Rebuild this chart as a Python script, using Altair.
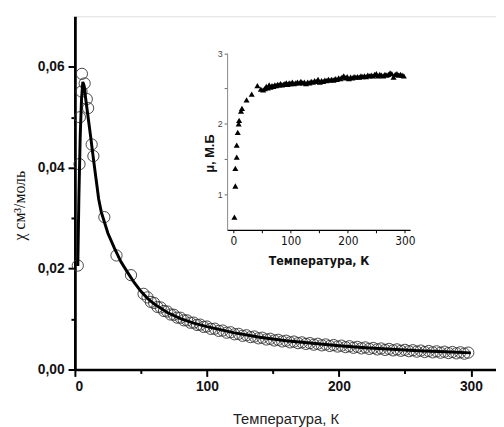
import altair as alt
import pandas as pd

# ---------- main chart: chi vs T (open circles) ----------
circ_T = [2.2, 3.5, 3.8, 5.0, 5.3, 7.4, 9.0, 10.0, 12.7, 14.0, 22.3, 31.5, 42.5, 52.0,
          55, 57.5, 60, 62.5, 65, 67.5, 70, 72.5, 75, 77.5, 80, 82.5, 85, 87.5, 90, 92.5,
          95, 97.5, 100, 103, 106, 109, 112, 115, 118, 121, 124, 127, 130, 133, 136, 139,
          142, 145, 148, 151, 154, 157, 160, 163, 166, 169, 172, 175, 178, 181, 184, 187,
          190, 193, 196, 199, 202, 205, 208, 211, 214, 217, 220, 223, 226, 229, 232, 235,
          238, 241, 244, 247, 250, 253, 256, 259, 262, 265, 268, 271, 274, 277, 280, 283,
          286, 289, 292, 295, 298]
circ_chi = [0.0206, 0.0407, 0.0500, 0.0551, 0.0586, 0.0567, 0.0536, 0.0518, 0.0446, 0.0423,
            0.0302, 0.0226, 0.0187, 0.0150,
            0.01430, 0.01340, 0.01320, 0.01240, 0.01230, 0.01160, 0.01150, 0.01090, 0.01085,
            0.01028, 0.01026, 0.00975, 0.00974, 0.00927, 0.00929, 0.00884, 0.00889, 0.00845,
            0.00852, 0.00806, 0.00809, 0.00766, 0.00772, 0.00730, 0.00738, 0.00698, 0.00707,
            0.00668, 0.00679, 0.00642, 0.00654, 0.00618, 0.00630, 0.00595, 0.00609, 0.00575,
            0.00589, 0.00556, 0.00571, 0.00538, 0.00554, 0.00522, 0.00538, 0.00507, 0.00523,
            0.00492, 0.00510, 0.00479, 0.00497, 0.00467, 0.00485, 0.00455, 0.00473, 0.00443,
            0.00461, 0.00431, 0.00449, 0.00419, 0.00438, 0.00409, 0.00427, 0.00398, 0.00417,
            0.00388, 0.00408, 0.00379, 0.00399, 0.00371, 0.00390, 0.00362, 0.00382, 0.00354,
            0.00375, 0.00347, 0.00367, 0.00340, 0.00360, 0.00333, 0.00353, 0.00326, 0.00347,
            0.00320, 0.00341, 0.00314, 0.00335]

# fitted curve (solid black line)
fit_T = [2.2, 3.0, 4.0, 5.0, 6.0, 7.0, 8.0, 10, 12, 14, 16, 18, 20, 25, 30, 35, 40, 45, 50,
         55, 60, 70, 80, 90, 100, 120, 140, 160, 180, 200, 220, 240, 260, 280, 300]
fit_chi = [0.0205, 0.0340, 0.0460, 0.0535, 0.0570, 0.0562, 0.0540, 0.0500, 0.0460, 0.0418,
           0.0378, 0.0338, 0.0312, 0.0270, 0.0240, 0.0213, 0.0192, 0.0172, 0.0155, 0.0141,
           0.0130, 0.0113, 0.0101, 0.0092, 0.0085, 0.0073, 0.0064, 0.0057, 0.0052, 0.0047,
           0.0043, 0.0040, 0.0037, 0.0035, 0.0033]

# ---------- inset: mu vs T (filled triangles) ----------
tri_T = [1.8, 3.4, 3.4, 5.8, 5.8, 7.6, 9.2, 10.0, 13.3, 15.0, 23.0, 32.0, 42.0, 48, 52,
         55, 57.5, 60, 62.5, 65, 67.5, 70, 72.5, 75, 77.5, 80, 82.5, 85, 87.5, 90, 92.5,
         95, 97.5, 100, 103, 106, 109, 112, 115, 118, 121, 124, 127, 130, 133, 136, 139,
         142, 145, 148, 151, 154, 157, 160, 163, 166, 169, 172, 175, 178, 181, 184, 187,
         190, 193, 196, 199, 202, 205, 208, 211, 214, 217, 220, 223, 226, 229, 232, 235,
         238, 241, 244, 247, 250, 253, 256, 259, 262, 265, 268, 271, 274, 277, 280, 283,
         286, 289, 292, 295, 298]
tri_mu = [0.68, 1.12, 1.37, 1.53, 1.70, 1.88, 2.00, 2.05, 2.18, 2.22, 2.34, 2.42, 2.54, 2.49, 2.48,
          2.50, 2.53, 2.51, 2.55, 2.52, 2.54, 2.53, 2.55, 2.54, 2.56, 2.55, 2.57, 2.55, 2.56,
          2.57, 2.58, 2.56, 2.58, 2.57, 2.59, 2.57, 2.58, 2.59, 2.58, 2.60, 2.58, 2.59, 2.57,
          2.59, 2.58, 2.60, 2.59, 2.61, 2.60, 2.63, 2.59, 2.61, 2.60, 2.62, 2.61, 2.63, 2.62,
          2.63, 2.62, 2.64, 2.63, 2.65, 2.64, 2.66, 2.68, 2.65, 2.67, 2.64, 2.66, 2.65, 2.67,
          2.66, 2.67, 2.66, 2.68, 2.67, 2.68, 2.67, 2.69, 2.68, 2.69, 2.68, 2.70, 2.71, 2.68,
          2.70, 2.69, 2.68, 2.70, 2.69, 2.70, 2.72, 2.71, 2.66, 2.70, 2.71, 2.69, 2.70, 2.69,
          2.68]

# axis tick values
main_x_ticks = [0, 50, 100, 150, 200, 250, 300]
main_y_ticks = [0, 0.01, 0.02, 0.03, 0.04, 0.05, 0.06]
inset_x_ticks = [0, 50, 100, 150, 200, 250, 300]
inset_y_ticks = [1, 1.5, 2, 2.5, 3]

circ_df = pd.DataFrame({"T": circ_T, "chi": circ_chi})
fit_df = pd.DataFrame({"T": fit_T, "chi": fit_chi})
tri_df = pd.DataFrame({"T": tri_T, "mu": tri_mu})

W, H = 428, 359
FONT = "Liberation Sans"
NARROW = "'DejaVu Sans Condensed', 'Liberation Sans Narrow', 'Liberation Sans', sans-serif"

x_main_scale = alt.Scale(domain=[0, 319], nice=False, zero=False)
y_main_scale = alt.Scale(domain=[0, 0.07], nice=False, zero=False)

circles = alt.Chart(circ_df).mark_point(
    shape="circle", size=130, filled=False, stroke="#333", strokeWidth=0.9, opacity=1
).encode(
    x=alt.X("T:Q", scale=x_main_scale, axis=alt.Axis(
        orient="bottom", values=main_x_ticks, grid=False,
        domainColor="black", domainWidth=2.5, tickColor="black", tickWidth=2,
        tickSize=alt.expr("datum.value % 100 === 0 ? 7 : 4"),
        labelExpr="datum.value % 100 === 0 ? datum.label : ''",
        labelFont=FONT, labelFontSize=14, labelColor="#111", labelPadding=3,
        labelFontWeight="bold",
        title="Температура, К", titleFont=FONT, titleFontSize=15,
        titleFontWeight="normal", titleColor="#222", titlePadding=19)),
    y=alt.Y("chi:Q", scale=y_main_scale, axis=alt.Axis(
        orient="left", values=main_y_ticks, grid=False,
        domainColor="black", domainWidth=2.8, tickColor="black", tickWidth=2,
        tickSize=alt.expr("round(datum.value * 100) % 2 === 0 ? 7 : 4"),
        labelExpr="round(datum.value * 100) % 2 === 0 ? replace(format(datum.value, '.2f'), '.', ',') : ''",
        labelFont=FONT, labelFontSize=14, labelColor="#111", labelPadding=4,
        labelFontWeight="bold",
        title="χ см³/моль", titleFont="Liberation Serif", titleFontSize=16,
        titleFontWeight="normal", titleColor="#111",
        titleAngle=-90, titleX=-56, titleY=192, titleAlign="center",
        titleBaseline="middle")),
)

line = alt.Chart(fit_df).mark_line(color="black", strokeWidth=3).encode(
    x=alt.X("T:Q", scale=x_main_scale, axis=None),
    y=alt.Y("chi:Q", scale=y_main_scale, axis=None),
)

# inset placed inside the plot area through explicit scale ranges
inset_x_scale = alt.Scale(domain=[-11, 309], range=[154.7, 340.7], nice=False, zero=False)
inset_y_scale = alt.Scale(domain=[0.5, 3], range=[217, 37.5], nice=False, zero=False)

tris = alt.Chart(tri_df).mark_point(
    shape="triangle-up", size=38, filled=True, color="black", opacity=1
).encode(
    x=alt.X("T:Q", scale=inset_x_scale, axis=alt.Axis(
        orient="bottom", offset=-(H - 217), values=inset_x_ticks, grid=False,
        domainColor="black", domainWidth=1.2, tickColor="black", tickWidth=1,
        tickSize=3, labelExpr="datum.value % 100 === 0 ? format(datum.value, 'd') : ''",
        labelFont=NARROW, labelFontSize=12, labelColor="#111", labelPadding=3,
        title="Температура, К", titleFont=NARROW, titleFontSize=12.5,
        titleFontWeight="bold", titleColor="#111", titlePadding=8)),
    y=alt.Y("mu:Q", scale=inset_y_scale, axis=alt.Axis(
        orient="left", offset=-154.7, values=inset_y_ticks, grid=False,
        domainColor="#888", domainWidth=1, tickColor="#666", tickWidth=1,
        tickSize=3, labelExpr="datum.value % 1 === 0 ? format(datum.value, 'd') : ''",
        labelFont=FONT, labelFontSize=9, labelColor="#444", labelPadding=2,
        title="μ, М.Б", titleFont=FONT, titleFontSize=13, titleFontWeight="bold",
        titleColor="#111", titleAngle=-90, titleX=-18, titleY=139,
        titleAlign="center", titleBaseline="middle")),
)

chart = alt.layer(circles, line, tris).resolve_scale(
    x="independent", y="independent"
).properties(
    width=W, height=H,
    autosize=alt.AutoSizeParams(type="none"),
    padding={"left": 68, "top": 5, "right": 0, "bottom": 55},
).configure_view(stroke=None).configure(background="white")

chart.save("out.html", embed_options={"renderer": "svg", "actions": False})
